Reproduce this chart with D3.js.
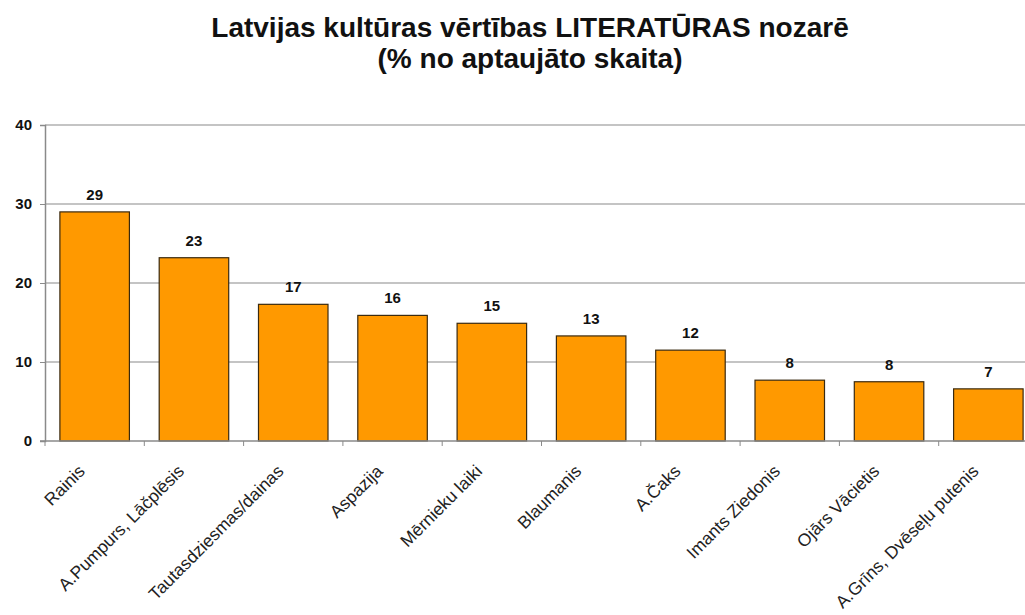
<!DOCTYPE html>
<html>
<head>
<meta charset="utf-8">
<script src="https://cdn.jsdelivr.net/npm/d3@7"></script>
<style>
  body { margin: 0; background: #fff; }
  svg { display: block; font-family: "Liberation Sans", Arial, sans-serif; }
</style>
</head>
<body>
<div id="chart"></div>
<script>
const titleLines = ["Latvijas kultūras vērtības LITERATŪRAS nozarē", "(% no aptaujāto skaita)"];
const categories = ["Rainis", "A.Pumpurs, Lāčplēsis", "Tautasdziesmas/dainas", "Aspazija", "Mērnieku laiki",
  "Blaumanis", "A.Čaks", "Imants Ziedonis", "Ojārs Vācietis", "A.Grīns, Dvēseļu putenis"];
const values = [29, 23.2, 17.3, 15.9, 14.9, 13.3, 11.5, 7.7, 7.5, 6.6];
const valueLabels = ["29", "23", "17", "16", "15", "13", "12", "8", "8", "7"];
const yTicks = [0, 10, 20, 30, 40];

const W = 1025, H = 615;
const m = { top: 125, left: 45 };
const plotW = 993, plotH = 316;

const svg = d3.select("#chart").append("svg").attr("width", W).attr("height", H);

svg.append("text").attr("x", 530).attr("y", 37).attr("text-anchor", "middle")
  .style("font-size", "28px").style("font-weight", "bold").attr("fill", "#111").text(titleLines[0]);
svg.append("text").attr("x", 530).attr("y", 68).attr("text-anchor", "middle")
  .style("font-size", "28px").style("font-weight", "bold").attr("fill", "#111").text(titleLines[1]);

const g = svg.append("g").attr("transform", `translate(${m.left},${m.top})`);

const x = d3.scaleBand().domain(categories).range([0, plotW]).paddingInner(0.3).paddingOuter(0.15);
const y = d3.scaleLinear().domain([0, 40]).range([plotH, 0]);

// gridlines
g.selectAll("line.grid").data(yTicks.filter(d => d > 0)).join("line")
  .attr("class", "grid")
  .attr("x1", 0).attr("x2", plotW)
  .attr("y1", d => y(d)).attr("y2", d => y(d))
  .attr("stroke", "#8a8a8a").attr("stroke-width", 1.2);

// y axis
const yAxis = g.append("g").call(d3.axisLeft(y).tickValues(yTicks).tickSize(5).tickPadding(8));
yAxis.select(".domain").attr("stroke", "#8a8a8a").attr("stroke-width", 1.5);
yAxis.selectAll(".tick line").attr("stroke", "#8a8a8a");
yAxis.selectAll(".tick text").style("font-size", "15px").style("font-weight", "bold")
  .style("font-family", "'Liberation Sans', Arial, sans-serif").attr("fill", "#111");

// bars
g.selectAll("rect.bar").data(categories).join("rect")
  .attr("class", "bar")
  .attr("x", d => x(d))
  .attr("y", (d, i) => y(values[i]))
  .attr("width", x.bandwidth())
  .attr("height", (d, i) => plotH - y(values[i]))
  .attr("fill", "#ff9900").attr("stroke", "#3a2a10").attr("stroke-width", 1.2);

// value labels
g.selectAll("text.val").data(categories).join("text")
  .attr("class", "val")
  .attr("x", d => x(d) + x.bandwidth() / 2)
  .attr("y", (d, i) => y(values[i]) - 12)
  .attr("text-anchor", "middle")
  .style("font-size", "15px").style("font-weight", "bold").attr("fill", "#111")
  .text((d, i) => valueLabels[i]);

// x axis line and ticks at band boundaries
g.append("line").attr("x1", -5).attr("x2", plotW).attr("y1", plotH).attr("y2", plotH)
  .attr("stroke", "#8a8a8a").attr("stroke-width", 1.5);
const step = x.step();
const bounds = d3.range(categories.length + 1).map(i => x(categories[0]) - x.paddingInner() * step / 2 + i * step);
g.selectAll("line.xt").data(bounds).join("line")
  .attr("class", "xt")
  .attr("x1", d => d).attr("x2", d => d)
  .attr("y1", plotH).attr("y2", plotH + 5)
  .attr("stroke", "#8a8a8a");

// rotated category labels
g.selectAll("text.cat").data(categories).join("text")
  .attr("class", "cat")
  .attr("transform", d => `translate(${x(d) + x.bandwidth() / 2 - 13},${plotH + 27}) rotate(-45)`)
  .attr("text-anchor", "end")
  .attr("dy", "0.35em")
  .style("font-size", "17.5px").attr("fill", "#222")
  .text(d => d);
</script>
</body>
</html>
